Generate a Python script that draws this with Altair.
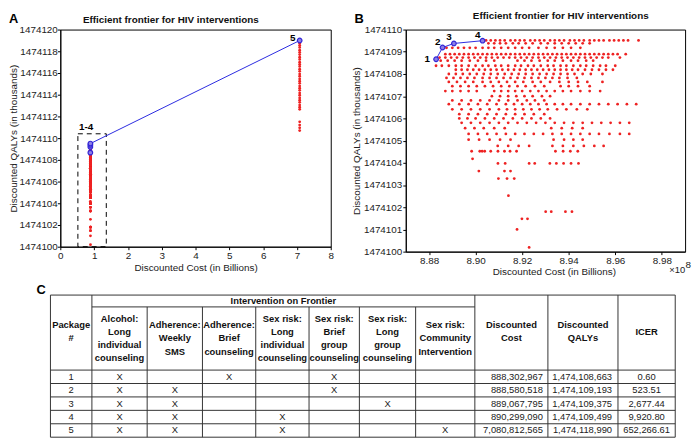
import altair as alt
import pandas as pd

FONT = "Liberation Sans"

# ---------------- data ----------------
package_ids = [1, 2, 3, 4, 5]
package_cost = [888302967, 888580518, 889067795, 890299090, 7080812565]       # $
package_qaly = [1474108663, 1474109193, 1474109375, 1474109499, 1474118990]   # QALYs
package_icer = [0.60, 523.51, 2677.44, 9920.80, 652266.61]

intervention_headers = [
    "Alcohol:\nLong\nindividual\ncounseling",
    "Adherence:\nWeekly\nSMS",
    "Adherence:\nBrief\ncounseling",
    "Sex risk:\nLong\nindividual\ncounseling",
    "Sex risk:\nBrief\ngroup\ncounseling",
    "Sex risk:\nLong\ngroup\ncounseling",
    "Sex risk:\nCommunity\nIntervention",
]
package_members = [
    [1, 0, 1, 0, 1, 0, 0],
    [1, 1, 0, 0, 1, 0, 0],
    [1, 1, 0, 0, 0, 1, 0],
    [1, 1, 0, 1, 0, 0, 0],
    [1, 1, 0, 1, 0, 0, 1],
]
summary_headers = ["Discounted\nCost", "Discounted\nQALYs", "ICER"]
panel_title = "Efficient frontier for HIV interventions"

# dominated packages near $0.89B: one QALY level (thousands) per row, costs in $ millions
cloud_qaly = [1474109.51, 1474109.38, 1474109.18, 1474108.89, 1474108.74, 1474108.60,
              1474108.37, 1474108.19, 1474108.00, 1474107.82, 1474107.64, 1474107.45,
              1474107.23, 1474107.00, 1474106.81, 1474106.64, 1474106.41, 1474106.19,
              1474106.00, 1474105.80, 1474105.56, 1474105.30, 1474105.04, 1474104.76,
              1474104.52, 1474104.18, 1474103.97, 1474103.63, 1474103.29, 1474102.52,
              1474101.80, 1474101.48, 1474101.00, 1474100.19]
cloud_cost = [
    [890.45, 890.65, 890.85, 891.05, 891.25, 891.5, 891.7, 891.9, 892.1, 892.35, 892.55, 892.75, 892.95, 893.2, 893.4, 893.6, 893.8, 894.05, 894.25, 894.45, 894.65, 894.9, 895.1, 895.3, 895.5, 895.75, 895.95, 896.15, 896.35, 896.55, 897.0],
    [890.55, 890.8, 891.05, 891.3, 891.6, 891.85, 892.15, 892.45, 892.8, 893.1, 893.4, 893.7, 894.0, 894.3, 894.6, 894.9],
    [888.75, 889.0, 889.25, 889.5, 889.75, 890.0, 890.3, 890.55, 890.8, 891.1, 891.4, 891.7, 892.0, 892.3, 892.7, 893.05, 893.4, 893.75, 894.1, 894.5],
    [888.7, 888.9, 889.1, 889.3, 889.5, 889.7, 889.9, 890.1, 890.3, 890.5, 890.7, 890.9, 891.1, 891.3, 891.5, 891.7, 891.9, 892.1, 892.3, 892.5, 892.7, 892.9, 893.1, 893.3, 893.5, 893.7, 893.9, 894.1, 894.3, 894.5, 894.7, 894.9, 895.1, 895.3, 895.5, 895.7, 895.9, 896.1, 896.45],
    [888.45, 888.7, 888.95, 889.2, 889.45, 889.7, 889.95, 890.2, 890.45, 890.7, 890.95, 891.2, 891.45, 891.7, 891.95, 892.2, 892.45, 892.7, 892.95, 893.2, 893.45, 893.7, 893.95, 894.2, 894.45, 894.7, 894.95, 895.2, 895.45, 895.7, 896.2],
    [888.5, 888.8, 889.1, 889.4, 889.75, 890.1, 890.45, 890.8, 891.8, 892.1, 892.4, 892.75, 893.1, 893.4, 893.75, 894.1, 894.4, 894.75, 895.05],
    [888.3, 888.55, 888.85, 889.15, 889.4, 889.7, 890.0, 890.3, 890.55, 890.85, 891.1, 891.4, 891.7, 891.95, 892.25, 892.5, 892.8, 893.1, 893.35, 893.65, 893.9, 894.2, 894.5, 894.75, 895.05, 895.35, 895.6, 896.0],
    [889.15, 889.4, 889.65, 889.9, 890.15, 890.4, 890.65, 890.9, 891.15, 891.4, 891.65, 891.9, 892.15, 892.4, 892.65, 892.9, 893.15, 893.4, 893.65, 893.9, 894.15, 894.4, 894.7, 895.0, 895.3, 895.6, 895.9],
    [888.85, 889.15, 889.45, 889.75, 890.05, 890.35, 890.65, 890.95, 891.25, 891.55, 891.85, 892.15, 892.45, 892.75, 893.05, 893.35, 893.65, 893.95, 894.25, 894.6, 894.95, 895.45],
    [888.75, 889.05, 889.35, 889.65, 889.95, 890.3, 890.6, 890.9, 891.2, 891.5, 891.8, 892.1, 892.4, 892.7, 893.0, 893.3, 893.6, 893.95, 894.35],
    [888.85, 889.2, 889.55, 889.9, 890.3, 890.65, 891.0, 891.35, 891.7, 892.05, 892.45, 892.8, 893.2, 893.6, 894.0, 894.4, 894.8, 895.45],
    [889.0, 889.35, 889.7, 890.05, 890.4, 890.75, 891.1, 891.45, 891.8, 892.15, 892.55, 892.95, 893.65, 894.0, 894.4, 894.9],
    [888.7, 889.0, 889.35, 889.7, 890.05, 890.8, 891.1, 891.4, 891.7, 892.0, 892.35, 892.7, 893.05, 893.4, 893.75, 894.1, 894.5, 894.9, 895.35],
    [890.7, 891.05, 891.4, 891.75, 892.1, 892.45, 892.85, 893.2],
    [889.0, 889.4, 889.8, 890.2, 890.6, 891.0, 891.4, 891.8, 892.2, 892.55, 892.95],
    [888.85, 889.3, 889.7, 890.1, 890.5, 890.9, 891.3, 891.65, 892.0, 892.35, 892.7, 893.05, 893.4, 893.75, 894.1, 894.5, 894.9, 895.3, 895.7, 896.1, 896.5, 896.9],
    [889.0, 889.4, 889.8, 890.2, 890.6, 891.0, 891.35, 891.7, 892.05, 892.4, 892.75, 893.1, 893.5, 893.9, 894.35, 894.8],
    [889.3, 889.7, 890.1, 890.5, 890.9, 891.3, 891.7, 892.1, 892.5, 892.95],
    [889.3, 889.65, 890.0, 890.4, 890.8, 891.2, 891.6, 892.0, 892.4, 892.8, 893.2],
    [889.4, 889.8, 890.2, 890.6, 891.0, 891.4, 891.8, 892.2, 892.6, 893.0, 893.4, 893.8, 894.2, 894.6, 895.0, 895.4, 895.8, 896.2, 896.6],
    [889.55, 889.95, 890.35, 890.8, 891.25, 893.25, 893.7, 894.15, 894.6],
    [889.7, 890.1, 890.5, 890.9, 891.3, 891.7, 892.1, 892.5, 892.9, 893.3, 893.7, 894.1, 894.5, 894.9, 895.3, 895.75, 896.2, 896.6],
    [889.7, 890.15, 890.6, 891.05, 891.5, 893.35, 893.8, 894.2, 894.6],
    [890.95, 891.4, 891.85, 892.3, 893.3, 893.75, 894.2, 894.65, 895.1, 895.5],
    [889.83, 890.18, 890.28, 890.39, 890.65, 890.96, 891.24, 891.48, 891.76, 893.43, 893.76, 894.07, 894.39],
    [889.87],
    [890.96, 891.27, 892.30, 892.54, 893.19, 893.47, 893.78, 894.10, 894.42],
    [890.14, 891.24, 891.50],
    [890.98, 891.35, 891.66],
    [891.41],
    [893.01, 893.25, 893.86, 894.14],
    [891.99, 892.23],
    [891.78],
    [892.30],
]

# dominated packages that include the community intervention (~$7.08B), QALYs in thousands
community_cost_m = 7080.8
community_qaly = [1474118.75, 1474118.55, 1474118.35, 1474118.1, 1474117.9, 1474117.7,
                  1474117.45, 1474117.25, 1474117.0, 1474116.8, 1474116.6, 1474116.35,
                  1474116.15, 1474115.9, 1474115.7, 1474115.45, 1474115.25, 1474115.05,
                  1474114.8, 1474114.6, 1474114.4, 1474114.15, 1474113.95, 1474113.7,
                  1474113.5, 1474113.3, 1474113.05, 1474112.85, 1474112.65, 1474111.5,
                  1474111.2, 1474110.95, 1474110.7]

# dashed zoom box of panel A (cost in $B, QALYs in thousands)
zoom_box_cost = [0.52, 1.36]
zoom_box_qaly = [1474100, 1474110.4]
zoom_box_label = "1-4"

# ---------------- layout (pixels) ----------------
A_LEFT = 60          # absolute page x of panel A plot
PLOT_TOP = 29        # absolute page y of both plots
A_W, A_H = 334 - A_LEFT, 220
B_W, B_H = 283, 225
HSPACE = 410 - (A_LEFT + A_W)
TABLE_TOP = 293
TABLE_NUDGE = 5      # flush layout places the second row a little high
TABLE_LEFT = 50
col_widths = [42, 56, 56, 54, 54, 51, 57, 60, 74, 71, 58]
HEAD_BAND, HEAD_H, ROW_H, LINE_H = 12, 76, 13.6, 13.3
LETTER_Y = -6.6

RED = "#ee2222"
BLUE = "#2a2ae0"

# ---------------- frames ----------------
cloud_df = pd.DataFrame([{"cost_m": c, "qaly": q} for q, row in zip(cloud_qaly, cloud_cost) for c in row])
comm_df = pd.DataFrame({"cost_m": [community_cost_m] * len(community_qaly), "qaly": community_qaly})
dom_a = pd.concat([cloud_df, comm_df], ignore_index=True)
dom_a["x"] = dom_a["cost_m"] / 1000.0
dom_b = cloud_df.assign(x=cloud_df["cost_m"] / 100.0)

front = pd.DataFrame({"pkg": package_ids, "cost": package_cost,
                      "qaly": [q / 1000.0 for q in package_qaly]})
front_a = front.assign(x=front["cost"] / 1e9, lbl=front["pkg"].astype(str))
front_b = front[front["pkg"] <= 4].assign(x=front["cost"] / 1e8, lbl=front["pkg"].astype(str))
box_df = pd.DataFrame({"x": [zoom_box_cost[0]], "x2": [zoom_box_cost[1]],
                       "qaly": [zoom_box_qaly[0]], "qaly2": [zoom_box_qaly[1]]})
box_lbl_df = pd.DataFrame({"x": [sum(zoom_box_cost) / 2], "qaly": [zoom_box_qaly[1]],
                           "lbl": [zoom_box_label]})


def label_text(txt, x, y, size, weight="bold", align="left", baseline="alphabetic", color="#000"):
    return alt.Chart(pd.DataFrame({"t": [txt]})).mark_text(
        font=FONT, fontSize=size, fontWeight=weight, align=align, baseline=baseline, color=color
    ).encode(text="t:N", x=alt.value(x), y=alt.value(y))


# ---------------- panel A ----------------
xa_scale = alt.Scale(domain=[0, 8], nice=False, zero=False)
ya_scale = alt.Scale(domain=[1474100, 1474120], nice=False, zero=False)
xa = alt.X("x:Q", scale=xa_scale,
           axis=alt.Axis(values=list(range(0, 9)), format="d", title="Discounted Cost (in Billions)",
                         labelOverlap=False))
ya = alt.Y("qaly:Q", scale=ya_scale,
           axis=alt.Axis(values=list(range(1474100, 1474121, 2)), format="d",
                         title="Discounted QALYs (in thousands)", labelOverlap=False,
                         labelPadding=0, titlePadding=0))

a_box = alt.Chart(box_df).mark_rect(fillOpacity=0, stroke="#000", strokeWidth=1, strokeDash=[5, 4]).encode(
    x=xa, x2="x2:Q", y=ya, y2="qaly2:Q")
a_box_lbl = alt.Chart(box_lbl_df).mark_text(font=FONT, fontSize=10, fontWeight="bold", dy=-7,
                                            dx=-6, color="#000").encode(x=xa, y=ya, text="lbl:N")
a_dom = alt.Chart(dom_a).mark_circle(size=8, color=RED, opacity=1).encode(x=xa, y=ya)
a_line = alt.Chart(front_a).mark_line(color=BLUE, strokeWidth=1).encode(x=xa, y=ya, order="pkg:O")
a_pts = alt.Chart(front_a).mark_point(shape="circle", size=22, filled=True, fill="#8c7fe6",
                                      stroke="#3326d6", strokeWidth=1.2, opacity=1).encode(x=xa, y=ya)
a_lbl5 = alt.Chart(front_a[front_a["pkg"] == 5]).mark_text(
    font=FONT, fontSize=10, fontWeight="bold", dx=-7, dy=-3, color="#000").encode(x=xa, y=ya, text="lbl:N")
a_letter = label_text("A", 8 - A_LEFT, LETTER_Y, 13)
a_title = label_text(panel_title, 172 - A_LEFT, 22.8 - PLOT_TOP, 10, align="center", color="#111")

panel_a = alt.layer(a_box, a_dom, a_line, a_pts, a_box_lbl, a_lbl5, a_letter, a_title).properties(
    width=A_W, height=A_H)

# ---------------- panel B ----------------
xb_scale = alt.Scale(domain=[8.87, 8.99], nice=False, zero=False)
yb_scale = alt.Scale(domain=[1474100, 1474110], nice=False, zero=False)
xb = alt.X("x:Q", scale=xb_scale,
           axis=alt.Axis(values=[8.88, 8.90, 8.92, 8.94, 8.96, 8.98], format=".2f",
                         title="Discounted Cost (in Billions)", titleX=150, titleY=15.5,
                         titleBaseline="top", labelOverlap=False))
yb = alt.Y("qaly:Q", scale=yb_scale,
           axis=alt.Axis(values=list(range(1474100, 1474111)), format="d",
                         title="Discounted QALYs (in thousands)", labelOverlap=False))

b_dom = alt.Chart(dom_b).mark_circle(size=8, color=RED, opacity=1).encode(x=xb, y=yb)
b_line = alt.Chart(front_b).mark_line(color=BLUE, strokeWidth=1).encode(x=xb, y=yb, order="pkg:O")
b_pts = alt.Chart(front_b).mark_point(shape="circle", size=22, filled=True, fill="#8c7fe6",
                                      stroke="#3326d6", strokeWidth=1.2, opacity=1).encode(x=xb, y=yb)
b_lbl1 = alt.Chart(front_b[front_b["pkg"] == 1]).mark_text(
    font=FONT, fontSize=10, fontWeight="bold", dx=-9, dy=0, color="#000").encode(x=xb, y=yb, text="lbl:N")
b_lbl = alt.Chart(front_b[front_b["pkg"] > 1]).mark_text(
    font=FONT, fontSize=10, fontWeight="bold", dx=-5, dy=-6, color="#000").encode(x=xb, y=yb, text="lbl:N")
b_letter = label_text("B", -52, LETTER_Y, 13)
b_title = label_text(panel_title, 567 - 410, 18.6 - PLOT_TOP, 10, align="center", color="#111")
b_exp = label_text("\u00d710", B_W - 16, B_H + 19, 9.5, weight="normal", baseline="middle", color="#222")
b_exp8 = label_text("8", B_W + 0.5, B_H + 14, 10, weight="normal", baseline="middle", color="#222")

panel_b = alt.layer(b_dom, b_line, b_pts, b_lbl1, b_lbl, b_letter, b_title, b_exp, b_exp8).properties(
    width=B_W, height=B_H)

# ---------------- table (panel C) ----------------
edges = [0]
for w in col_widths:
    edges.append(edges[-1] + w)
TW = edges[-1]
n_rows = len(package_ids)
TH = HEAD_H + ROW_H * n_rows
row_lines = [HEAD_H + ROW_H * k for k in range(n_rows + 1)]
n_int = len(intervention_headers)

rules = []
rules.append({"x": 0, "x2": TW, "y": 0, "y2": 0})
rules.append({"x": edges[1], "x2": edges[1 + n_int], "y": HEAD_BAND, "y2": HEAD_BAND})
for yy in row_lines:
    rules.append({"x": 0, "x2": TW, "y": yy, "y2": yy})
for i, e in enumerate(edges):
    top = HEAD_BAND if 2 <= i <= n_int else 0
    rules.append({"x": e, "x2": e, "y": top, "y2": TH})
rules_df = pd.DataFrame(rules)

centers = [(edges[i] + edges[i + 1]) / 2 for i in range(len(col_widths))]


def head_row(txt, x, yc):
    n = txt.count("\n") + 1
    return {"t": txt, "x": x, "y": yc - (n - 1) * LINE_H / 2}


head = [head_row("Intervention on Frontier", (edges[1] + edges[1 + n_int]) / 2, HEAD_BAND / 2),
        head_row("Package\n#", centers[0], HEAD_H / 2 - 1)]
for j, h in enumerate(intervention_headers):
    head.append(head_row(h, centers[1 + j], (HEAD_BAND + HEAD_H) / 2))
for j, h in enumerate(summary_headers):
    head.append(head_row(h, centers[1 + n_int + j], HEAD_H / 2 - 1))
head_df = pd.DataFrame(head)

cells_c, cells_r = [], []
for r in range(n_rows):
    yy = HEAD_H + ROW_H * (r + 0.5)
    cells_c.append({"t": str(package_ids[r]), "x": centers[0], "y": yy})
    for j in range(n_int):
        if package_members[r][j]:
            cells_c.append({"t": "X", "x": centers[1 + j], "y": yy})
    cells_r.append({"t": f"{package_cost[r]:,}", "x": edges[1 + n_int + 1] - 5, "y": yy})
    cells_r.append({"t": f"{package_qaly[r]:,}", "x": edges[1 + n_int + 2] - 6, "y": yy})
    cells_c.append({"t": f"{package_icer[r]:,.2f}", "x": centers[-1], "y": yy})
cells_c_df = pd.DataFrame(cells_c)
cells_r_df = pd.DataFrame(cells_r)

t_off = TABLE_LEFT - A_LEFT
tx_scale = alt.Scale(domain=[0, TW], range=[t_off, t_off + TW], nice=False, zero=False)
ty_scale = alt.Scale(domain=[0, TH], range=[TABLE_NUDGE, TABLE_NUDGE + TH], nice=False, zero=False)
tx = alt.X("x:Q", scale=tx_scale, axis=None)
ty = alt.Y("y:Q", scale=ty_scale, axis=None)

t_rules = alt.Chart(rules_df).mark_rule(color="#333", strokeWidth=1).encode(
    x=tx, x2="x2:Q", y=ty, y2="y2:Q")
t_head = alt.Chart(head_df).mark_text(font=FONT, fontSize=9.5, fontWeight="bold", lineBreak="\n",
                                      lineHeight=LINE_H, align="center", baseline="middle",
                                      color="#111").encode(x=tx, y=ty, text="t:N")
t_cells_c = alt.Chart(cells_c_df).mark_text(font=FONT, fontSize=9.5, align="center", baseline="middle",
                                            color="#222").encode(x=tx, y=ty, text="t:N")
t_cells_r = alt.Chart(cells_r_df).mark_text(font=FONT, fontSize=9.5, align="right", baseline="middle",
                                            color="#222").encode(x=tx, y=ty, text="t:N")
c_letter = label_text("C", 36 - A_LEFT, TABLE_NUDGE - 1.5, 13)

table = alt.layer(t_rules, t_head, t_cells_c, t_cells_r, c_letter).properties(
    width=683 - A_LEFT, height=TH, view=alt.ViewBackground(stroke=None))

# ---------------- assemble ----------------
# with flush bounds the top row contributes no height, so spacing runs from the plot tops
top_row = alt.hconcat(panel_a, panel_b, spacing=HSPACE, bounds="flush")
chart = alt.vconcat(top_row, table, spacing=TABLE_TOP - PLOT_TOP, bounds="flush").properties(padding=0)
chart = chart.configure(font=FONT).configure_view(stroke="#000", strokeWidth=1).configure_axis(
    labelFont=FONT, titleFont=FONT, labelFontSize=10, titleFontSize=10, titleFontWeight="normal",
    labelColor="#222", titleColor="#222", domainColor="#000", tickColor="#000", tickSize=3,
    labelPadding=1, titlePadding=2, grid=False, labelFlush=False, labelOverlap=False)

chart.save("out.html", embed_options={"renderer": "svg", "actions": False})
